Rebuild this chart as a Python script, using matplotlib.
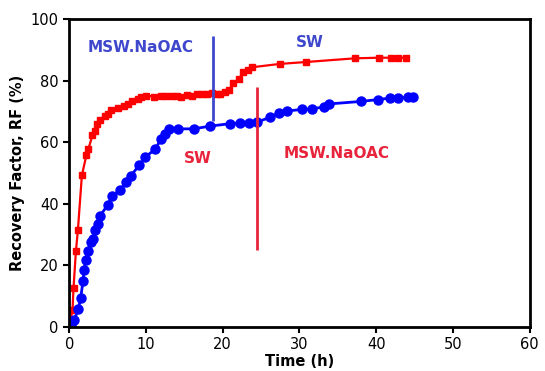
import matplotlib
matplotlib.use("Agg")
import matplotlib.pyplot as plt

# red series (squares)
red_t = [0, 0.43, 0.56, 0.87, 1.13, 1.65, 2.25, 2.5, 3.03, 3.3, 3.68, 4.0, 4.68, 5.1,
         5.5, 6.3, 7.1, 7.6, 8.2, 8.9, 9.3, 10.0, 11.0, 11.9, 12.6, 13.4, 14.1, 14.6,
         15.4, 16.0, 16.7, 17.3, 18.0, 18.6, 19.3, 19.7, 20.3, 20.8, 21.4, 22.1, 22.7,
         23.3, 23.8, 27.5, 30.8, 37.2, 40.3, 41.9, 42.8, 43.9]
red_rf = [0, 5.4, 12.6, 24.5, 31.4, 49.2, 55.9, 57.8, 62.2, 63.6, 65.9, 67.2, 68.6, 69.2,
          70.3, 71.0, 71.6, 72.4, 73.3, 74.1, 74.6, 75.1, 74.8, 75.0, 74.9, 75.0, 75.1, 74.6,
          75.4, 75.1, 75.7, 75.7, 75.7, 75.8, 75.7, 75.7, 76.2, 76.8, 79.1, 80.5, 82.7,
          83.5, 84.3, 85.4, 86.0, 87.2, 87.4, 87.4, 87.4, 87.4]

# blue series (circles)
blue_t = [0.2, 0.65, 1.2, 1.5, 1.8, 1.95, 2.16, 2.47, 2.8, 3.1, 3.38, 3.8, 4.0, 5.0,
          5.6, 6.6, 7.4, 8.0, 9.1, 9.9, 11.2, 12.0, 12.5, 13.0, 14.2, 16.2, 18.4, 21.0,
          22.3, 23.4, 24.5, 26.2, 27.3, 28.4, 30.3, 31.6, 33.2, 33.9, 38.0, 40.2, 41.8,
          42.8, 44.2, 44.8]
blue_rf = [0.5, 2.2, 5.9, 9.5, 14.9, 18.6, 21.8, 24.6, 27.6, 28.6, 31.4, 33.5, 36.0, 39.5,
           42.4, 44.3, 47.0, 49.0, 52.4, 55.1, 57.7, 61.1, 62.7, 64.3, 64.3, 64.3, 65.2, 66.0,
           66.2, 66.2, 66.5, 68.1, 69.4, 70.1, 70.6, 70.8, 71.4, 72.4, 73.2, 73.8, 74.3,
           74.4, 74.5, 74.5]

# switch markers: (x, ymin, ymax)
blue_switch = (18.7, 66.8, 94.6)
red_switch = (24.5, 24.9, 77.8)

fig = plt.figure(figsize=(5.45, 3.71), dpi=100)
ax = fig.add_axes([0.127, 0.119, 0.845, 0.830])

ax.plot(red_t, red_rf, color="#ff0000", marker="s", markersize=4.5, lw=1.6)
ax.plot(blue_t, blue_rf, color="#0000ff", marker="o", markersize=6.5, lw=2)

ax.vlines(blue_switch[0], blue_switch[1], blue_switch[2], color="#3f48cc", lw=2)
ax.vlines(red_switch[0], red_switch[1], red_switch[2], color="#e8243c", lw=2)

ax.text(9.35, 90.6, "MSW.NaOAC", color="#3f48cc", fontsize=11, fontweight="bold",
        ha="center", va="center")
ax.text(31.4, 92.2, "SW", color="#3f48cc", fontsize=11, fontweight="bold",
        ha="center", va="center")
ax.text(16.7, 54.7, "SW", color="#e8243c", fontsize=11, fontweight="bold",
        ha="center", va="center")
ax.text(34.8, 56.4, "MSW.NaOAC", color="#e8243c", fontsize=11, fontweight="bold",
        ha="center", va="center")

ax.set_xlim(0, 60)
ax.set_ylim(0, 100)
ax.set_xticks(range(0, 61, 10))
ax.set_yticks(range(0, 101, 20))
ax.tick_params(labelsize=10.5, width=1.5, length=4)
for s in ax.spines.values():
    s.set_linewidth(2)

ax.set_xlabel("Time (h)", fontsize=10.5, fontweight="bold", labelpad=1)
ax.set_ylabel("Recovery Factor, RF (%)", fontsize=10.5, fontweight="bold")

fig.savefig("out.png", dpi=100)
